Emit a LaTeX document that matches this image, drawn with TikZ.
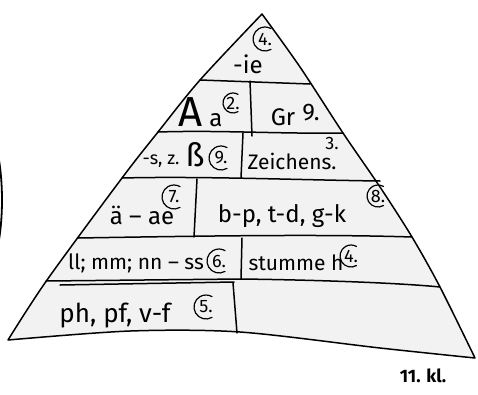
\documentclass[tikz,border=0pt]{standalone}
\usepackage{fontspec}
\setmainfont{Fira Sans}
\usetikzlibrary{calc}
\definecolor{fillgray}{HTML}{F2F2F2}
\tikzset{
  pen/.style={draw=black, line width=1.5pt, line cap=round, line join=round},
  txt/.style={inner sep=0pt, font=\fontsize{21}{21}\selectfont},
  big/.style={inner sep=0pt, font=\fontsize{24}{24}\selectfont},
  small/.style={inner sep=0pt, font=\fontsize{18}{18}\selectfont},
  num/.style={inner sep=0pt, font=\fontsize{18}{18}\selectfont},
}
\newcommand\circmark[2]{\draw[pen, line width=1.2pt] ($(#1.center)+(60:#2)$) arc[start angle=60,end angle=300,radius=#2];}
\begin{document}
\begin{tikzpicture}[x=1pt,y=-1pt]
\useasboundingbox (0,0) rectangle (478,394);
% outline coordinates
\coordinate (apex) at (262,14);
\coordinate (br) at (475,358);
\coordinate (bl) at (8,340);
% pyramid
\path[pen, fill=fillgray] (apex) -- plot[smooth, tension=0.5] coordinates {(262,14) (300,67) (343,133) (380,187) (412,237) (440,287) (475,358)}
  -- plot[smooth, tension=0.5] coordinates {(475,358) (380,348) (240,332) (130,331) (8,340)}
  -- plot[smooth, tension=0.5] coordinates {(8,340) (47,280) (122,178) (158,132) (200,80) (262,14)} -- cycle;
% left arc
\draw[pen, line width=1.8pt] (-1,160) .. controls (3,185) and (3,215) .. (-1,240);
% row dividers
\coordinate (h1l) at (200,80); \coordinate (h1r) at (310,84);
\coordinate (h2l) at (158,132); \coordinate (h2r) at (343,133);
\coordinate (h3l) at (122,178); \coordinate (h3r) at (380,181);
\coordinate (h4l) at (78,238); \coordinate (h4r) at (412,237);
\coordinate (h5l) at (46,281); \coordinate (h5m) at (241,279); \coordinate (h5r) at (440,287);
\coordinate (p6l) at (60,285); \coordinate (p6r) at (234,282);
\draw[pen] (h1l) -- (h1r);
\draw[pen] (h2l) .. controls (220,130) and (280,134) .. (h2r);
\draw[pen] (h3l) .. controls (200,176) and (300,180) .. (h3r);
\draw[pen] (h4l) .. controls (200,236) and (320,234) .. (h4r);
\draw[pen] (h5l) -- (h5m) .. controls (320,280) and (400,283) .. (h5r);
\draw[pen] (p6l) -- (p6r);
% vertical dividers
\coordinate (v2t) at (250,81); \coordinate (v2b) at (252,136);
\coordinate (v3t) at (243,133); \coordinate (v3b) at (241,178);
\coordinate (v4t) at (197,179); \coordinate (v4b) at (194,237);
\coordinate (v5t) at (242,238); \coordinate (v5b) at (241,279);
\coordinate (v6t) at (233,283); \coordinate (v6b) at (237,333);
\draw[pen] (v2t) -- (v2b);
\draw[pen] (v3t) -- (v3b);
\draw[pen] (v4t) -- (v4b);
\draw[pen] (v5t) -- (v5b);
\draw[pen] (v6t) -- (v6b);
% row 1
\node[big] (t1) at (248,64) {-ie};
\node[num] (c1) at (265,39) {4.};
\circmark{c1}{12}
% row 2
\node[inner sep=0pt, font=\fontsize{42}{42}\selectfont] (tA) at (191,112) {A};
\node[big] (ta) at (216,120) {a};
\node[num] (c2) at (233,103) {2.};
\circmark{c2}{10}
\node[big] (tGr) at (283,117) {Gr};
\node[big] (n9) at (311,113) {9.};
% row 3
\node[small] (tsz) at (161,161) {-s, z.};
\node[inner sep=0pt, font=\fontsize{32}{32}\selectfont] (tss) at (195,155) {ß};
\node[num] (c9) at (221,158) {9.};
\circmark{c9}{12}
\node[inner sep=0pt, font=\fontsize{21}{21}\selectfont] (tZ) at (292,161) {Zeichens.};
\node[num] (c3) at (332,143) {3.};
% row 4
\node[big] (tae) at (142,215) {ä – ae};
\node[num] (c7) at (174,197) {7.};
\circmark{c7}{12}
\node[big] (tbp) at (282,216) {b-p, t-d, g-k};
\node[num] (c8) at (378,196) {8.};
\circmark{c8}{11}
% row 5
\node[txt] (tll) at (136,263) {ll; mm; nn – ss};
\node[num] (c6) at (219,261) {6.};
\circmark{c6}{12}
\node[txt] (tst) at (296,263) {stumme h};
\node[num] (c4b) at (351,256) {4.};
\circmark{c4b}{11}
% row 6
\node[inner sep=0pt, font=\fontsize{26}{26}\selectfont] (tph) at (115,316) {ph, pf, v-f};
\node[num] (c5) at (206,307) {5.};
\circmark{c5}{12}
% class label
\node[inner sep=0pt, font=\fontsize{18}{18}\bfseries\selectfont] (kl) at (423,376) {11. kl.};
\end{tikzpicture}
\end{document}
